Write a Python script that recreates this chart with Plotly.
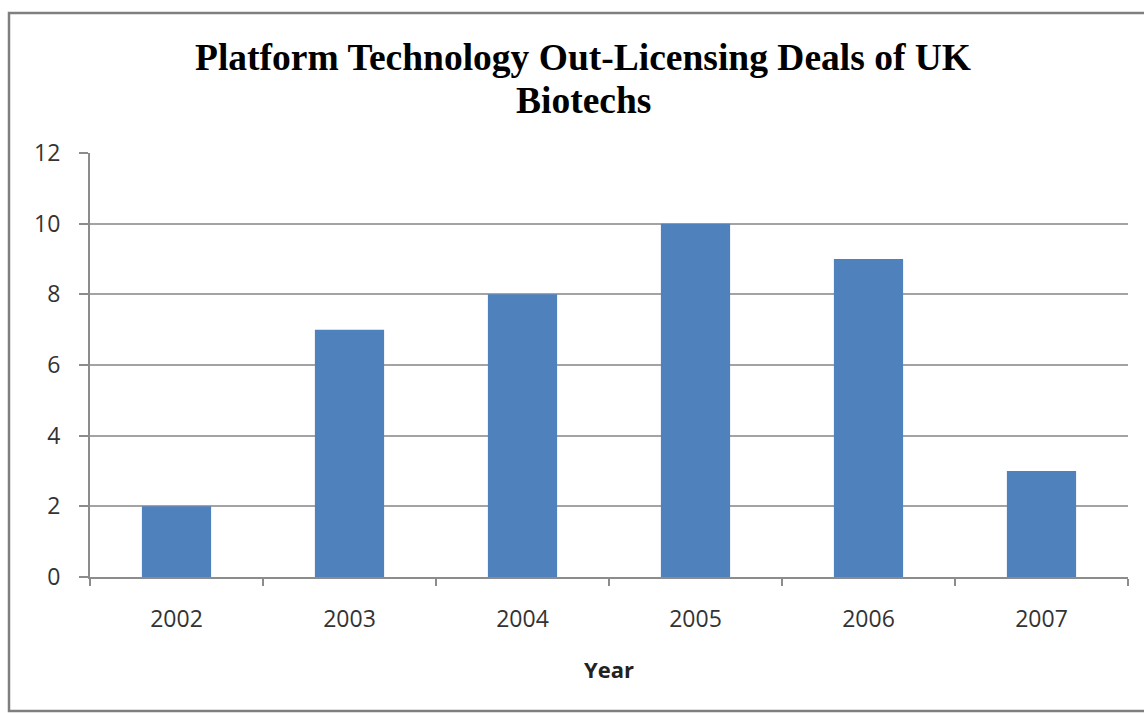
import plotly.graph_objects as go

years = ["2002", "2003", "2004", "2005", "2006", "2007"]
deals = [2, 7, 8, 10, 9, 3]
title_lines = ["Platform Technology Out-Licensing Deals of UK", "Biotechs"]
x_title = "Year"

W, H = 1144, 713
L, R, T, B = 90, 16, 153, 136
pw, ph = W - L - R, H - T - B

def px(x):
    return (x - L) / pw

def py(y):
    return (H - B - y) / ph

fig = go.Figure(go.Bar(x=years, y=deals, marker=dict(color="#4f81bd", line=dict(width=0)), width=0.4))

fig.update_layout(
    width=W, height=H,
    margin=dict(l=L, r=R, t=T, b=B),
    paper_bgcolor="white", plot_bgcolor="white",
    showlegend=False,
    font=dict(family="Open Sans", size=23, color="#333333"),
    bargap=0.6,
)
fig.update_xaxes(
    type="category", showgrid=False, showline=True, linecolor="#8c8c8c", linewidth=2,
    ticks="outside", ticklen=7, tickcolor="#8c8c8c", tickwidth=2, tickson="boundaries",
    tickfont=dict(family="Open Sans", size=23, color="#333333"),
    ticklabelstandoff=20,
    range=[-0.5, 5.5],
    title=dict(text="<b>" + x_title + "</b>", font=dict(family="Open Sans", size=22, color="#222222"), standoff=30),
)
fig.update_yaxes(
    range=[0, 12], dtick=2, showgrid=True, gridcolor="#a3a3a3", gridwidth=1.5,
    showline=True, linecolor="#8c8c8c", linewidth=2, zeroline=False,
    ticks="outside", ticklen=9, tickcolor="#8c8c8c", tickwidth=2,
    tickfont=dict(family="Open Sans", size=23, color="#333333"),
    ticklabelstandoff=14,
)

for i, (line, ycen) in enumerate(zip(title_lines, [58, 101])):
    fig.add_annotation(
        text="<b>" + line + "</b>", xref="paper", yref="paper",
        x=px(583), y=py(ycen), xanchor="center", yanchor="middle", showarrow=False,
        font=dict(family="Liberation Serif", size=37.5, color="black"),
    )

fig.add_shape(type="rect", xref="paper", yref="paper",
              x0=px(9), x1=px(1160), y0=py(711), y1=py(13),
              line=dict(color="#7f7f7f", width=2.5), layer="below")

fig.write_html("out.html")
